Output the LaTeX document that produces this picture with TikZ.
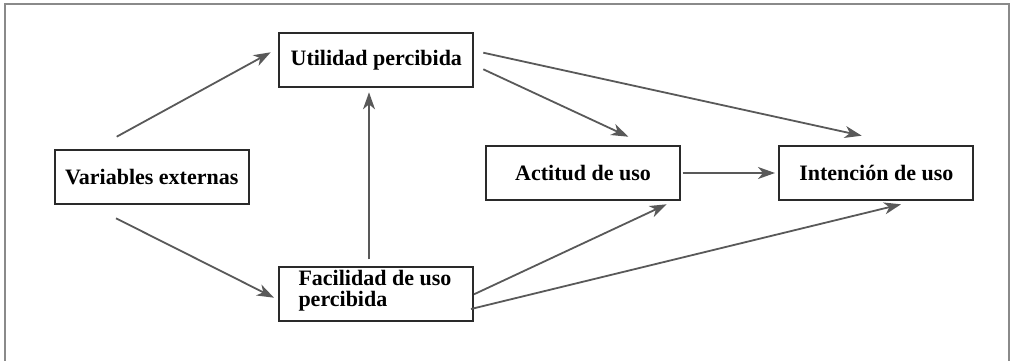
\documentclass[tikz,border=0pt]{standalone}
\usepackage{fontspec}
\setmainfont{Liberation Serif}
\usetikzlibrary{arrows.meta}
\definecolor{framec}{HTML}{8A8A8A}
\definecolor{arrc}{HTML}{595959}
\definecolor{boxc}{HTML}{2A2A2A}
\tikzset{
  box/.style={draw=boxc, line width=1.7pt, minimum width=194pt, minimum height=54pt, inner sep=0pt, font=\fontsize{22}{22}\selectfont\bfseries, text=black},
  conn/.style={draw=arrc, line width=1.8pt, -{Stealth[length=17pt,width=12pt,inset=5pt]}}
}
\begin{document}
\begin{tikzpicture}[x=1pt,y=-1pt]
\useasboundingbox (0,0) rectangle (1019,361);
\draw[framec, line width=1.8pt] (5,361) -- (5,4) -- (1009,4) -- (1009,361);
\node[box] (up) at (376.3,60.3) {Utilidad percibida};
\node[box] (ve) at (151.7,177) {Variables externas};
\node[box] (fu) at (376.3,293.9) {};
\node[anchor=north west, align=left, inner sep=0pt, font=\fontsize{22}{21}\selectfont\bfseries] (fut) at (298.3,270.5) {Facilidad de uso\\percibida};
\node[box] (au) at (583,173) {Actitud de uso};
\node[box] (iu) at (876.3,173) {Intención de uso};
\coordinate (ve1) at (116.7,136.7);
\coordinate (up1) at (270.7,52.3);
\coordinate (ve2) at (116,218.3);
\coordinate (fu1) at (274,297.7);
\coordinate (fu2) at (369,259.3);
\coordinate (up2) at (369,92.3);
\coordinate (up3) at (483.3,69.3);
\coordinate (au1) at (628.3,136.7);
\coordinate (up4) at (483.3,52.7);
\coordinate (iu1) at (861.7,135.7);
\coordinate (au2) at (682.7,173);
\coordinate (iu2) at (775,173);
\coordinate (fu3) at (474,294.3);
\coordinate (au3) at (666.7,204.3);
\coordinate (fu4) at (471,309);
\coordinate (iu3) at (901,204.3);
\draw[conn] (ve1) -- (up1);
\draw[conn] (ve2) -- (fu1);
\draw[conn] (fu2) -- (up2);
\draw[conn] (up3) -- (au1);
\draw[conn] (up4) -- (iu1);
\draw[conn] (au2) -- (iu2);
\draw[conn] (fu3) -- (au3);
\draw[conn] (fu4) -- (iu3);
\end{tikzpicture}
\end{document}
